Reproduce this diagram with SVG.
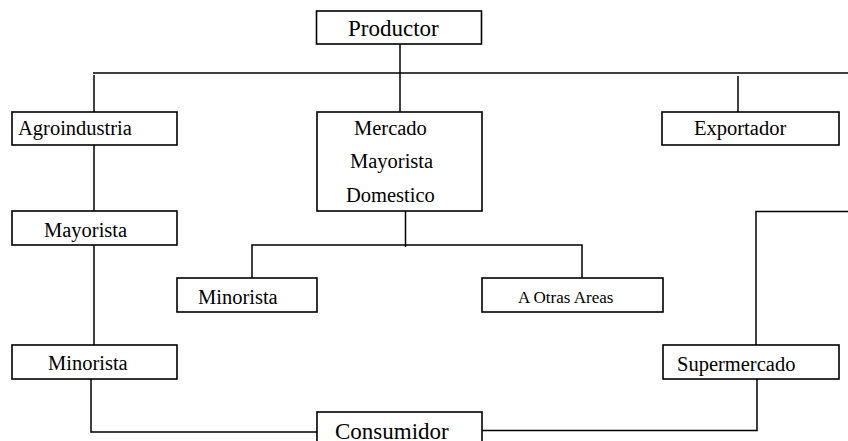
<svg xmlns="http://www.w3.org/2000/svg" width="848" height="441" viewBox="0 0 848 441">
<style>
.box{fill:#fff;stroke:#000;stroke-width:1.6}
.ln{fill:none;stroke:#000;stroke-width:1.5}
text{font-family:"Liberation Serif","Times New Roman",serif;fill:#000;font-size:20.5px}
.big{font-size:23px}
.sm{font-size:17px}
</style>
<rect width="848" height="441" fill="#fff"/>
<g id="connectors">
<path class="ln" d="M400,44 V112"/>
<path class="ln" d="M93,73 H848"/>
<path class="ln" d="M94,75 V112"/>
<path class="ln" d="M738,76 V112"/>
<path class="ln" d="M94,145 V211"/>
<path class="ln" d="M94,245 V345"/>
<path class="ln" d="M405.5,211 V247"/>
<path class="ln" d="M252,278 V245 H582 V278"/>
<path class="ln" d="M91,379 V432 H317"/>
<path class="ln" d="M848,211.5 H756 V345"/>
<path class="ln" d="M757,379 V430.5 H482"/>
</g>
<g id="productor"><rect class="box" x="316.5" y="11" width="165" height="33"/><text class="big" x="348" y="36">Productor</text></g>
<g id="agroindustria"><rect class="box" x="12" y="112" width="165" height="33"/><text x="18" y="135">Agroindustria</text></g>
<g id="mercado"><rect class="box" x="317" y="112" width="165" height="99"/><text x="354" y="135">Mercado</text><text x="350" y="168">Mayorista</text><text x="346" y="202">Domestico</text></g>
<g id="exportador"><rect class="box" x="662" y="112" width="177" height="33"/><text x="694" y="135">Exportador</text></g>
<g id="mayorista"><rect class="box" x="12" y="211" width="165" height="34"/><text x="44" y="237">Mayorista</text></g>
<g id="minorista-centro"><rect class="box" x="177" y="278" width="140" height="34"/><text x="198" y="304">Minorista</text></g>
<g id="otras-areas"><rect class="box" x="482" y="278" width="181" height="34"/><text class="sm" x="518" y="303">A Otras Areas</text></g>
<g id="minorista"><rect class="box" x="12" y="345" width="165" height="34"/><text x="48" y="370">Minorista</text></g>
<g id="supermercado"><rect class="box" x="663" y="345" width="176" height="34"/><text x="677" y="371">Supermercado</text></g>
<g id="consumidor"><rect class="box" x="317" y="412" width="165" height="40"/><text class="big" x="335" y="439">Consumidor</text></g>
</svg>
